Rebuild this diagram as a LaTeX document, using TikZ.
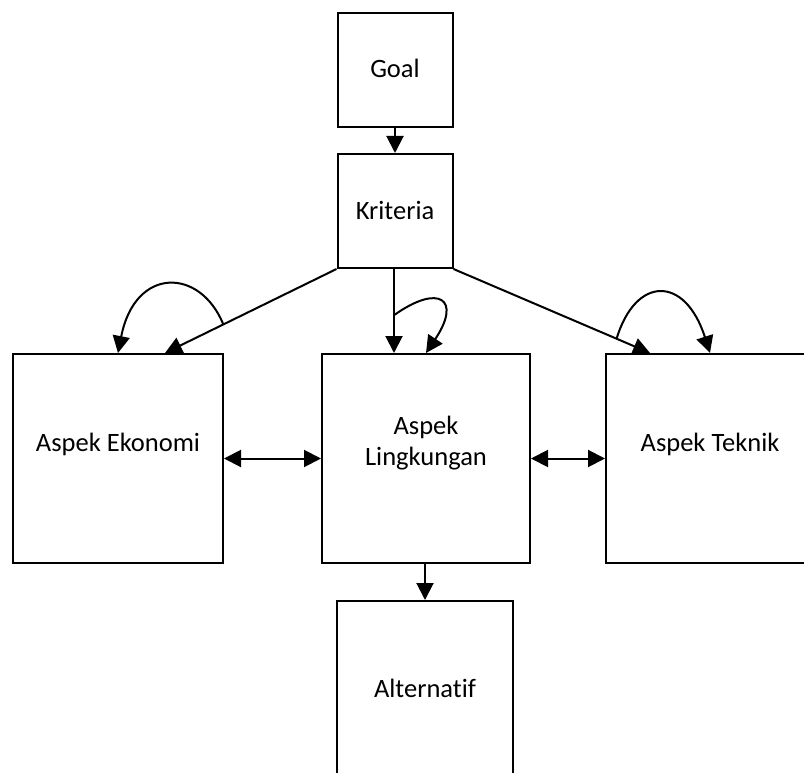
\documentclass[tikz,border=0pt]{standalone}
\usepackage{fontspec}
\setmainfont[Ligatures={NoCommon}]{Carlito}
\usetikzlibrary{arrows.meta,calc}
\begin{document}
\begin{tikzpicture}[x=1pt,y=-1pt,
  box/.style={draw=black,line width=2pt,fill=white,inner sep=0pt},
  lbl/.style={inner sep=0pt,anchor=base,font=\fontsize{26.5}{31}\selectfont,align=center},
  conn/.style={line width=2pt,-{Triangle[length=17pt,width=17pt]}},
  bconn/.style={line width=2pt,{Triangle[length=17pt,width=17pt]}-{Triangle[length=17pt,width=17pt]}}]
\useasboundingbox (0,0) rectangle (804,773);
% boxes
\node[box,minimum width=115pt,minimum height=114pt] (goal) at (395,70) {};
\node[box,minimum width=115pt,minimum height=114pt] (krit) at (395,211) {};
\node[box,minimum width=210pt,minimum height=209pt] (eko) at (118,458.5) {};
\node[box,minimum width=208pt,minimum height=209pt] (ling) at (426,458.5) {};
\node[box,minimum width=208pt,minimum height=209pt] (tek) at (710,458.5) {};
\node[box,minimum width=176pt,minimum height=200pt] (alt) at (425,701) {};
% labels
\node[lbl] (tgoal) at (395,78) {Goal};
\node[lbl] (tkrit) at (395,219) {Kriteria};
\node[lbl] (teko) at (118,451) {Aspek Ekonomi};
\node[lbl] (tling1) at (426,434) {Aspek};
\node[lbl] (tling2) at (426,465) {Lingkungan};
\node[lbl] (ttek) at (710,451) {Aspek Teknik};
\node[lbl] (talt) at (425,697) {Alternatif};
% connectors
\draw[conn] (goal.south) -- (krit.north);
\draw[conn] (krit.south west) -- ([xshift=47pt]eko.north) coordinate[pos=0.66] (le);
\draw[conn] ([xshift=-1pt]krit.south) -- ([xshift=-1pt]krit.south |- ling.north) coordinate[pos=0.55] (ll);
\draw[conn] (krit.south east) -- ([xshift=-60pt]tek.north) coordinate[pos=0.83] (lt);
\draw[conn] (alt.north |- ling.south) -- (alt.north);
\draw[bconn] (eko.east) -- (ling.west);
\draw[bconn] (ling.east) -- (tek.west);
% self loops
\draw[conn] (le) .. controls +(-23,-57) and +(17,-87) .. (eko.north);
\draw[conn] (ll) .. controls +(45,-32) and +(36,-54) .. (ling.north);
\draw[conn] (lt) .. controls +(19,-63) and +(-25,-78) .. (tek.north);
\end{tikzpicture}
\end{document}
